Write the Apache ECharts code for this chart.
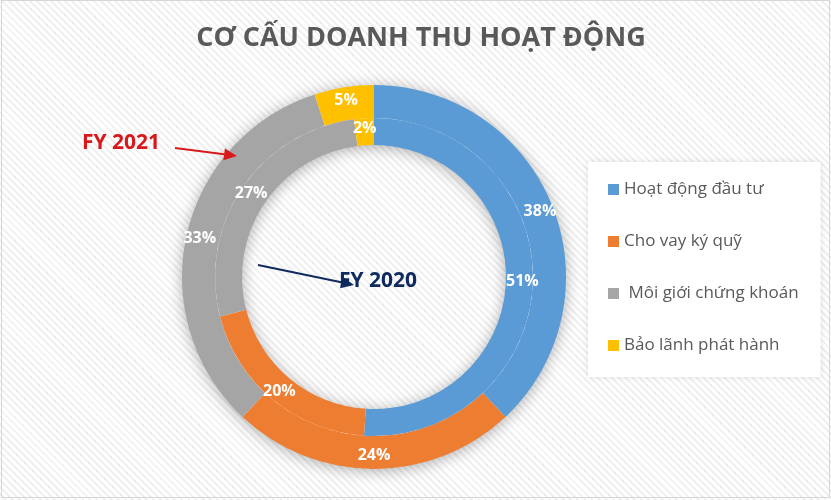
<!DOCTYPE html>
<html>
<head>
    <meta charset="utf-8">
    <title>Cơ cấu doanh thu hoạt động</title>
    <script src="https://cdn.jsdelivr.net/npm/echarts@6/dist/echarts.min.js"></script>
    <style>
        html, body { margin: 0; padding: 0; background: #fff; }
        #wrap { position: relative; width: 831px; height: 500px; }
        #main {
            width: 831px; height: 500px;
            background: repeating-linear-gradient(45deg, #ffffff 0, #ffffff 3px, #f0f0f0 3px, #f0f0f0 5px);
        }
        #frame {
            position: absolute; left: 1px; top: 0px; width: 827px; height: 496px;
            border: 1px solid #d6d6d6; pointer-events: none;
        }
    </style>
</head>
<body>
<div id="wrap">
    <div id="main"></div>
    <div id="frame"></div>
</div>
<script type="text/javascript">

    // số liệu
    var categories = ['Hoạt động đầu tư', 'Cho vay ký quỹ', 'Môi giới chứng khoán', 'Bảo lãnh phát hành'];
    var fy2021 = [38, 24, 33, 5];   // vòng ngoài
    var fy2020 = [51, 20, 27, 2];   // vòng trong
    var colors = ['#5B9BD5', '#ED7D31', '#A5A5A5', '#FFC000'];

    var cx = 374, cy = 277;
    var font = "'Open Sans', sans-serif";

    function toData(vals) {
        return vals.map(function (v, i) { return { name: categories[i], value: v }; });
    }

    // mũi tên: thân + đầu
    function arrow(x1, y1, x2, y2, color) {
        var a = Math.atan2(y2 - y1, x2 - x1), len = 13, w = 6;
        var bx = x2 - len * Math.cos(a), by = y2 - len * Math.sin(a);
        return [
            { type: 'line', z: 10, shape: { x1: x1, y1: y1, x2: bx, y2: by }, style: { stroke: color, lineWidth: 2 } },
            { type: 'polygon', z: 11, shape: { points: [
                [x2, y2],
                [bx + w * Math.sin(a), by - w * Math.cos(a)],
                [bx - w * Math.sin(a), by + w * Math.cos(a)]
            ] }, style: { fill: color } }
        ];
    }

    var myChart = echarts.init(document.getElementById('main'), null, { renderer: 'canvas' });

    var labelStyle = {
        show: true,
        position: 'inside',
        color: '#ffffff',
        fontFamily: font,
        fontWeight: 'bold',
        fontSize: 16,
        formatter: function (p) { return p.value + '%'; }
    };

    var option = {
        color: colors,
        backgroundColor: 'transparent',
        title: {
            text: 'CƠ CẤU DOANH THU HOẠT ĐỘNG',
            left: 416,
            top: 20,
            textAlign: 'center',
            textStyle: { fontFamily: font, fontSize: 27, fontWeight: 'bold', color: '#595959' }
        },
        legend: {
            orient: 'vertical',
            left: 588,
            top: 162,
            data: categories,
            icon: 'rect',
            itemWidth: 11,
            itemHeight: 11,
            itemGap: 35,
            padding: [19, 22, 23, 20],
            backgroundColor: '#ffffff',
            shadowBlur: 6,
            shadowColor: 'rgba(0,0,0,0.12)',
            formatter: function (name) { return name === 'Môi giới chứng khoán' ? ' ' + name : name; },
            textStyle: { fontFamily: font, fontSize: 17, color: '#595959' }
        },
        graphic: [
            // bóng đổ sau vòng tròn
            { type: 'ring', z: 0, shape: { cx: cx, cy: cy, r: 191, r0: 133 },
              style: { fill: '#ffffff', shadowBlur: 16, shadowColor: 'rgba(0,0,0,0.35)', shadowOffsetY: 2 } },
            { type: 'text', z: 10, left: 82, top: 133,
              style: { text: 'FY 2021', fill: '#D7191C', font: "bold 21px 'Open Sans', sans-serif" } },
            { type: 'text', z: 10, left: 339, top: 271,
              style: { text: 'FY 2020', fill: '#0E2A5E', font: "bold 21px 'Open Sans', sans-serif" } }
        ].concat(arrow(175, 148, 237, 156, '#D7191C'), arrow(258, 265, 354, 285, '#0E2A5E')),
        series: [
            {
                name: 'FY 2021',
                type: 'pie',
                center: [cx, cy],
                radius: [159, 192],
                startAngle: 90,
                clockwise: true,
                silent: true,
                label: labelStyle,
                labelLine: { show: false },
                itemStyle: { borderWidth: 0 },
                data: toData(fy2021)
            },
            {
                name: 'FY 2020',
                type: 'pie',
                center: [cx, cy],
                radius: [132, 159],
                startAngle: 90,
                clockwise: true,
                silent: true,
                label: labelStyle,
                labelLine: { show: false },
                itemStyle: { borderWidth: 0 },
                data: toData(fy2020)
            }
        ]
    };

    myChart.setOption(option);

</script>
</body>
</html>
